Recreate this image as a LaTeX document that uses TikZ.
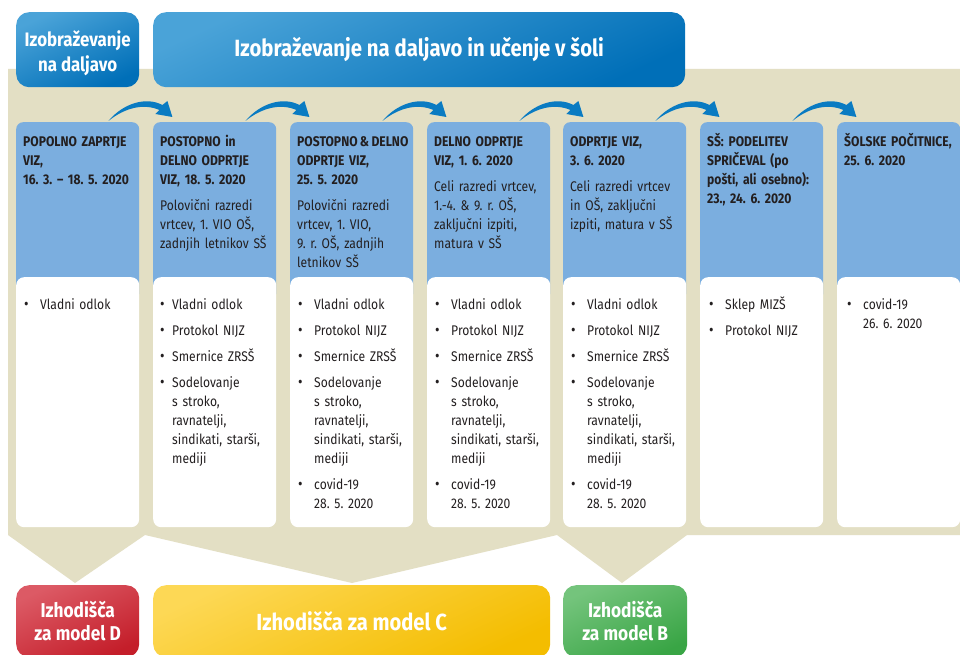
\documentclass[tikz,border=0pt]{standalone}
\usepackage{fontspec}
\setmainfont{Fira Sans}[FakeStretch=0.865]
\usetikzlibrary{calc}
\AtBeginDocument{\frenchspacing}
\definecolor{beige}{HTML}{E3DFC4}
\definecolor{hdrblue}{HTML}{7BAEDF}
\definecolor{dblueA}{HTML}{4AA3D8}
\definecolor{dblueB}{HTML}{006FB8}
\definecolor{arrowblue}{HTML}{0A7BC2}
\definecolor{redA}{HTML}{DC5A65}
\definecolor{redB}{HTML}{C41E2A}
\definecolor{yelA}{HTML}{FDD855}
\definecolor{yelB}{HTML}{F4BD00}
\definecolor{grnA}{HTML}{74C47C}
\definecolor{grnB}{HTML}{39A545}
\definecolor{txt}{HTML}{231F20}
\newlength\lstind
\newcommand\fl{\rule{0pt}{14pt}}
\newcommand\itm[1]{\noindent\hangindent=\lstind\hangafter=1\makebox[\lstind][l]{\fl\raisebox{-0.3pt}{\fontsize{16}{16}\selectfont\textbullet}}#1\par\vspace{7pt}}
\tikzset{
 colbox/.style={rectangle, rounded corners=7pt, anchor=north west, minimum width=123pt, minimum height=178pt, fill=hdrblue, inner sep=0pt},
 listbox/.style={rectangle, rounded corners=8pt, anchor=north west, minimum width=123pt, minimum height=250pt, fill=white, inner sep=0pt},
 hdrtext/.style={anchor=north west, text width=130pt, align=left, inner sep=0pt, font=\fontsize{14}{19}\selectfont\bfseries, text=txt},
 listtext/.style={anchor=north west, text width=130pt, inner sep=0pt, font=\fontsize{14}{19}\selectfont, text=txt, execute at begin node={\setlength\lstind{16pt}}},
 bigbox/.style={rectangle, rounded corners=13pt, anchor=north west, inner sep=0pt, text=white, font=\bfseries, align=center},
 blueshade/.style={top color=dblueA, bottom color=dblueB, shading angle=25},
 redshade/.style={top color=redA, bottom color=redB, shading angle=25},
 yelshade/.style={top color=yelA, bottom color=yelB, shading angle=25},
 grnshade/.style={top color=grnA, bottom color=grnB, shading angle=25},
 flowarrow/.style={fill=arrowblue},
}
\begin{document}
\begin{tikzpicture}[x=1pt,y=-1pt]
\clip (0,0) rectangle (960,655);
\fill[white] (0,0) rectangle (960,655);
% background band with pointers
\fill[beige] (8,69) -- (960,69) -- (960,535) -- (687,535) -- (622,583) -- (557,535)
  -- (352,583) -- (145,535) -- (75,583) -- (8,535) -- cycle;
% top headers
\node[bigbox, blueshade, minimum width=123pt, minimum height=75pt,
  font=\fontsize{19.5}{25}\selectfont\bfseries] (dist) at (16,12) {\rule{0pt}{23pt}Izobraževanje\\na daljavo};
\node[bigbox, blueshade, minimum width=532pt, minimum height=75pt,
  font=\fontsize{23.5}{27}\selectfont\bfseries] (mixed) at (153,12) {Izobraževanje na daljavo in učenje v šoli};
% columns
\node[colbox] (c1) at (16,122) {};
\node[colbox] (c2) at (153,122) {};
\node[colbox] (c3) at (290,122) {};
\node[colbox] (c4) at (427,122) {};
\node[colbox] (c5) at (563,122) {};
\node[colbox] (c6) at (700,122) {};
\node[colbox] (c7) at (837,122) {};
\node[listbox] (w1) at (16,277) {};
\node[listbox] (w2) at (153,277) {};
\node[listbox] (w3) at (290,277) {};
\node[listbox] (w4) at (427,277) {};
\node[listbox] (w5) at (563,277) {};
\node[listbox] (w6) at (700,277) {};
\node[listbox] (w7) at (837,277) {};
% header texts
\node[hdrtext] (t1) at ($(c1.north west)+(7,10)$) {\fl POPOLNO ZAPRTJE\\ VIZ,\\ 16. 3. – 18. 5. 2020};
\node[hdrtext] (t2) at ($(c2.north west)+(7,10)$) {\fl POSTOPNO in\\ DELNO ODPRTJE\\ VIZ, 18. 5. 2020\\[7pt]\mdseries
  Polovični razredi\\ vrtcev, 1. VIO OŠ,\\ zadnjih letnikov SŠ};
\node[hdrtext] (t3) at ($(c3.north west)+(7,10)$) {\fl POSTOPNO\,\&\,DELNO\\ ODPRTJE VIZ,\\ 25. 5. 2020\\[7pt]\mdseries
  Polovični razredi\\ vrtcev, 1. VIO,\\ 9. r. OŠ, zadnjih\\ letnikov SŠ};
\node[hdrtext] (t4) at ($(c4.north west)+(7,10)$) {\fl DELNO ODPRTJE\\ VIZ, 1. 6. 2020\\[7pt]\mdseries
  Celi razredi vrtcev,\\ 1.-4. \& 9. r. OŠ,\\ zaključni izpiti,\\ matura v SŠ};
\node[hdrtext] (t5) at ($(c5.north west)+(7,10)$) {\fl ODPRTJE VIZ,\\ 3. 6. 2020\\[7pt]\mdseries
  Celi razredi vrtcev\\ in OŠ, zaključni\\ izpiti, matura v SŠ};
\node[hdrtext] (t6) at ($(c6.north west)+(7,10)$) {\fl SŠ: PODELITEV\\ SPRIČEVAL (po\\ pošti, ali osebno):\\ 23., 24. 6. 2020};
\node[hdrtext] (t7) at ($(c7.north west)+(7,10)$) {\fl ŠOLSKE POČITNICE,\\ 25. 6. 2020};
% lists
\node[listtext] (l1) at ($(w1.north west)+(8,18)$) {\itm{Vladni odlok}};
\node[listtext] (l2) at ($(w2.north west)+(7,18)$) {\setlength\lstind{12pt}%
  \itm{Vladni odlok}\itm{Protokol NIJZ}\itm{Smernice ZRSŠ}%
  \itm{Sodelovanje\newline s stroko,\newline ravnatelji,\newline sindikati, starši,\newline mediji}};
\node[listtext] (l3) at ($(w3.north west)+(8,18)$) {%
  \itm{Vladni odlok}\itm{Protokol NIJZ}\itm{Smernice ZRSŠ}%
  \itm{Sodelovanje\newline s stroko,\newline ravnatelji,\newline sindikati, starši,\newline mediji}\itm{covid-19\newline 28. 5. 2020}};
\node[listtext] (l4) at ($(w4.north west)+(8,18)$) {%
  \itm{Vladni odlok}\itm{Protokol NIJZ}\itm{Smernice ZRSŠ}%
  \itm{Sodelovanje\newline s stroko,\newline ravnatelji,\newline sindikati, starši,\newline mediji}\itm{covid-19\newline 28. 5. 2020}};
\node[listtext] (l5) at ($(w5.north west)+(8,18)$) {%
  \itm{Vladni odlok}\itm{Protokol NIJZ}\itm{Smernice ZRSŠ}%
  \itm{Sodelovanje\newline s stroko,\newline ravnatelji,\newline sindikati, starši,\newline mediji}\itm{covid-19\newline 28. 5. 2020}};
\node[listtext] (l6) at ($(w6.north west)+(9,18)$) {\itm{Sklep MIZŠ}\itm{Protokol NIJZ}};
\node[listtext] (l7) at ($(w7.north west)+(10,18)$) {\itm{covid-19\newline 26. 6. 2020}};
% curved arrows between columns
\foreach \a in {c1,c2,c3,c4,c5,c6}{
  \fill[flowarrow, shift={(\a.north east)}]
    (-31,-1) .. controls (-17,-18) and (6,-26) .. (23,-17) -- (28,-21) -- (33,-5)
    -- (16,-8) -- (20,-12) .. controls (4,-19) and (-15,-14) .. (-31,-1) -- cycle;
}
% bottom boxes
\node[bigbox, redshade, minimum width=123pt, minimum height=72pt,
  font=\fontsize{20}{23}\selectfont\bfseries] (md) at (16,585) {Izhodišča\\za model D};
\node[bigbox, yelshade, minimum width=397pt, minimum height=72pt,
  font=\fontsize{23.3}{26}\selectfont\bfseries] (mc) at (153,585) {Izhodišča za model C};
\node[bigbox, grnshade, minimum width=124pt, minimum height=72pt,
  font=\fontsize{20}{23}\selectfont\bfseries] (mb) at (563,585) {Izhodišča\\za model B};
\end{tikzpicture}
\end{document}
